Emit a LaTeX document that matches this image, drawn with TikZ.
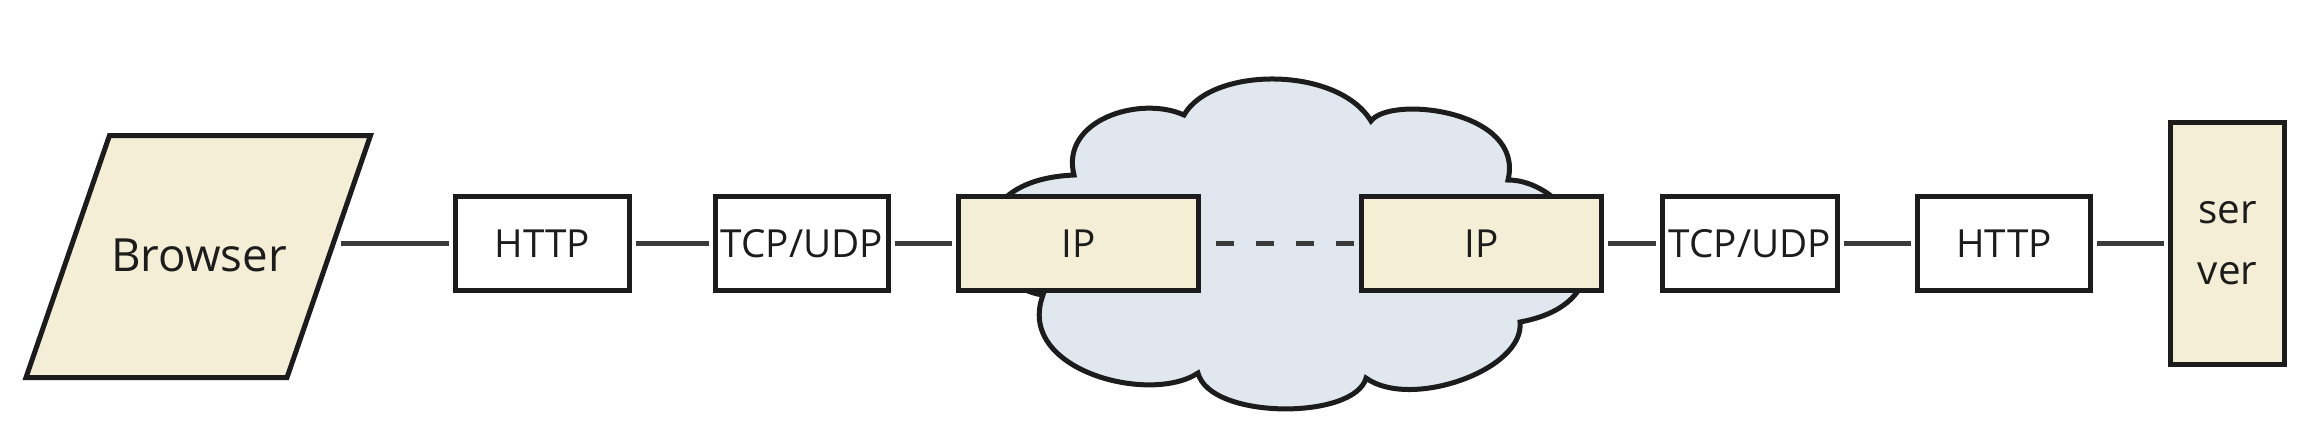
\documentclass[tikz,border=0pt]{standalone}
\usepackage{fontspec}
\setmainfont{Open Sans}
\definecolor{beige}{HTML}{F5EED6}
\definecolor{cloudc}{HTML}{E0E7EE}
\definecolor{ink}{HTML}{1C1C1C}
\definecolor{wirec}{HTML}{3A3A3A}
\begin{document}
\begin{tikzpicture}[x=0.01cm,y=-0.01cm,
  box/.style={draw=ink,line width=0.05cm,inner sep=0pt,minimum height=0.94cm,text=ink,font=\fontsize{11}{13}\selectfont},
  plainbox/.style={box,fill=white},
  ipbox/.style={box,fill=beige},
  wire/.style={draw=wirec,line width=0.05cm,shorten <=0.035cm,shorten >=0.035cm}]
\useasboundingbox (0,0) rectangle (2320,420);
% cloud
\draw[ink,fill=cloudc,line width=0.05cm] (1074,175)
  .. controls (1060,120) and (1140,95) .. (1184,115)
  .. controls (1212,66) and (1338,66) .. (1371,121)
  .. controls (1390,95) and (1525,110) .. (1508,180)
  .. controls (1575,180) and (1640,300) .. (1520,322)
  .. controls (1525,370) and (1410,410) .. (1366,378)
  .. controls (1355,420) and (1210,420) .. (1198,373)
  .. controls (1150,405) and (1015,370) .. (1043,295)
  .. controls (975,285) and (955,180) .. (1074,175) -- cycle;
% browser
\draw[ink,fill=beige,line width=0.05cm] (109.5,135.5) -- (370.5,135.5) -- (287,377.5) -- (26,377.5) -- cycle;
\node[text=ink,font=\fontsize{13}{15}\selectfont] (browser) at (199,255) {Browser};
\coordinate (browserR) at (337,243.5);
% boxes
\node[plainbox,minimum width=1.74cm] (http1) at (542.5,243.5) {HTTP};
\node[plainbox,minimum width=1.73cm] (tcp1) at (802,243.5) {TCP/UDP};
\node[ipbox,minimum width=2.40cm] (ip1) at (1078.5,243.5) {IP};
\node[ipbox,minimum width=2.40cm] (ip2) at (1481.5,243.5) {IP};
\node[plainbox,minimum width=1.75cm] (tcp2) at (1750,243.5) {TCP/UDP};
\node[plainbox,minimum width=1.73cm] (http2) at (2004,243.5) {HTTP};
\node[ipbox,minimum width=1.14cm,minimum height=2.42cm,align=center,font=\fontsize{11.5}{17.4}\selectfont] (server) at (2227.5,243.5) {ser\\ver};
% connectors
\draw[wire] (browserR) -- (http1);
\draw[wire] (http1) -- (tcp1);
\draw[wire] (tcp1) -- (ip1);
\draw[wire,shorten <=0.15cm,shorten >=0.05cm,dash pattern=on 0.18cm off 0.22cm] (ip1) -- (ip2);
\draw[wire] (ip2) -- (tcp2);
\draw[wire] (tcp2) -- (http2);
\draw[wire] (http2) -- (server);
\end{tikzpicture}
\end{document}
